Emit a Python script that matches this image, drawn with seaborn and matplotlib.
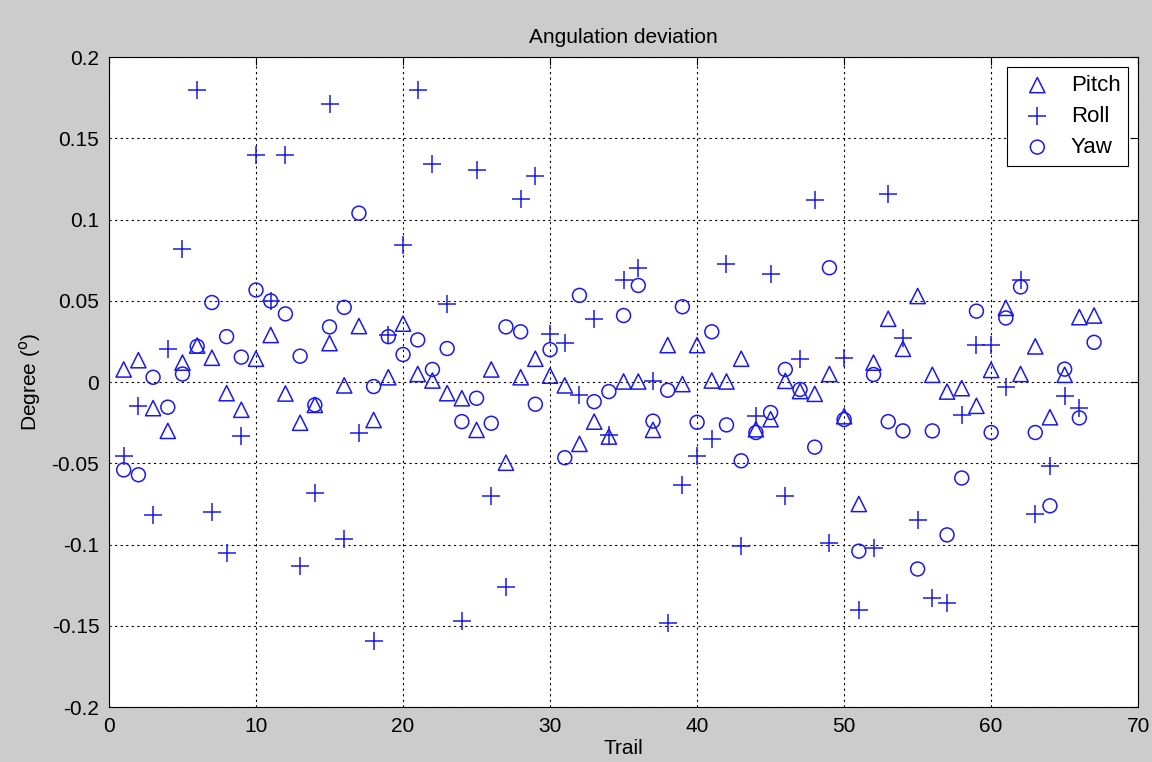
import numpy as np
import pandas as pd
import matplotlib
matplotlib.use('Agg')
import matplotlib.pyplot as plt
import seaborn as sns

# Trail numbers
trail = list(range(1, 68))

# Pitch deviation per trail (degrees)
pitch = [0.0078, 0.0135, -0.016, -0.030, 0.012, 0.0225, 0.015, -0.0068, -0.017, 0.0144,
         0.029, -0.007, -0.025, -0.014, 0.024, -0.002, 0.0345, -0.0233, 0.003, 0.036,
         0.005, 0.001, -0.0068, -0.0099, -0.0294, 0.0078, -0.0496, 0.003, 0.0144, 0.004,
         -0.002, -0.038, -0.0243, -0.0335, 0.0004, 0.0004, -0.0294, 0.0228, -0.0012, 0.0228,
         0.001, 0.0004, 0.0144, -0.029, -0.0228, 0.0008, -0.0055, -0.0072, 0.005, -0.021,
         -0.075, 0.012, 0.039, 0.0205, 0.053, 0.0045, -0.0058, -0.0037, -0.0146, 0.0075,
         0.0457, 0.005, 0.022, -0.0216, 0.0045, 0.040, 0.041]

# Roll deviation per trail (no mark visible for the last trail)
roll = [-0.0455, -0.0146, -0.082, 0.0205, 0.082, 0.180, -0.080, -0.105, -0.033, 0.140,
        0.050, 0.1396, -0.113, -0.0685, 0.171, -0.0963, -0.0315, -0.159, 0.029, 0.0844,
        0.180, 0.134, 0.048, -0.147, 0.1305, -0.070, -0.126, 0.113, 0.127, 0.0298,
        0.0238, -0.0078, 0.039, -0.0325, 0.063, 0.070, 0.001, -0.148, -0.063, -0.0453,
        -0.0352, 0.073, -0.101, -0.021, 0.0667, -0.070, 0.014, 0.112, -0.0988, 0.0146,
        -0.140, -0.102, 0.116, 0.027, -0.085, -0.133, -0.136, -0.020, 0.0226, 0.0226,
        -0.0027, 0.063, -0.081, -0.0516, -0.0088, -0.016, np.nan]

# Yaw deviation per trail
yaw = [-0.054, -0.057, 0.003, -0.0154, 0.005, 0.022, 0.049, 0.028, 0.0154, 0.0567,
       0.050, 0.042, 0.016, -0.014, 0.034, 0.046, 0.104, -0.0027, 0.028, 0.017,
       0.026, 0.0078, 0.0207, -0.0243, -0.0099, -0.0253, 0.034, 0.031, -0.0136, 0.020,
       -0.0465, 0.0534, -0.012, -0.0058, 0.041, 0.0595, -0.024, -0.005, 0.0464, -0.0247,
       0.031, -0.0263, -0.0484, -0.031, -0.0187, 0.0078, -0.0045, -0.040, 0.0704, -0.023,
       -0.104, 0.0047, -0.0243, -0.030, -0.115, -0.030, -0.094, -0.059, 0.0437, -0.031,
       0.0395, 0.0586, -0.031, -0.0761, 0.008, -0.022, 0.0245]

xticks = [0, 10, 20, 30, 40, 50, 60, 70]
yticks = [-0.2, -0.15, -0.1, -0.05, 0, 0.05, 0.1, 0.15, 0.2]
ytick_labels = ['-0.2', '-0.15', '-0.1', '-0.05', '0', '0.05', '0.1', '0.15', '0.2']

df = pd.DataFrame({'Trail': trail, 'Pitch': pitch, 'Roll': roll, 'Yaw': yaw})

sns.set_style('white')
plt.rcParams['font.family'] = ['Liberation Sans', 'DejaVu Sans']
plt.rcParams['text.color'] = 'black'
plt.rcParams['axes.labelcolor'] = 'black'

blue = '#1a1ae6'

fig = plt.figure(figsize=(11.52, 7.62), dpi=100, facecolor='#cccccc')
ax = fig.add_axes([0.0946, 0.072, 0.8934, 0.853])
ax.set_facecolor('white')

sns.scatterplot(data=df, x='Trail', y='Pitch', marker='^', s=120, facecolor='none',
                edgecolor=blue, linewidth=1.1, label='Pitch', ax=ax)
sns.scatterplot(data=df, x='Trail', y='Roll', marker='+', s=150, color=blue,
                linewidth=1.1, label='Roll', ax=ax)
sns.scatterplot(data=df, x='Trail', y='Yaw', marker='o', s=100, facecolor='none',
                edgecolor=blue, linewidth=1.1, label='Yaw', ax=ax)

ax.set_xlim(0, 70)
ax.set_ylim(-0.2, 0.2)
ax.set_xticks(xticks)
ax.set_yticks(yticks)
ax.set_yticklabels(ytick_labels)
ax.tick_params(direction='in', length=6, width=0.8, labelsize=15, colors='black',
               top=True, right=True, pad=7)
ax.grid(True, color='black', linestyle=(0, (2, 3)), linewidth=0.8)
for sp in ax.spines.values():
    sp.set_color('black')
    sp.set_linewidth(0.8)

ax.set_title('Angulation deviation', fontsize=15, pad=10)
ax.set_xlabel('Trail', fontsize=15, labelpad=2)
ax.set_ylabel('Degree ($^{\\rm o}$)', fontsize=15, labelpad=6)

leg = ax.legend(loc='upper right', fontsize=16, frameon=True, fancybox=False,
                edgecolor='black', framealpha=1, borderpad=0.35, handletextpad=0.5,
                labelspacing=0.45, borderaxespad=0.45, markerscale=1.0)
leg.get_frame().set_linewidth(0.8)

fig.savefig('out.png', dpi=100, facecolor=fig.get_facecolor())
